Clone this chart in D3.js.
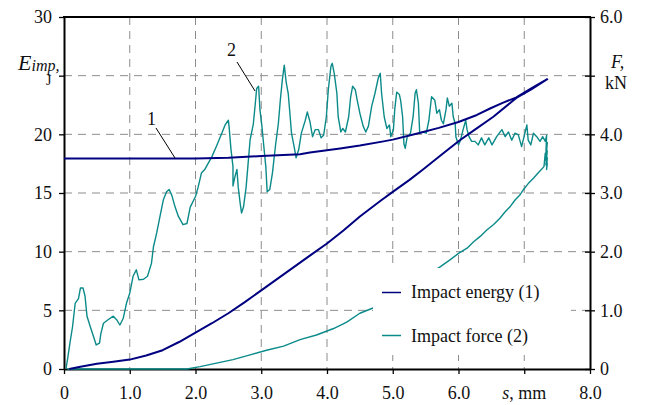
<!DOCTYPE html>
<html><head><meta charset="utf-8">
<script src="https://cdn.jsdelivr.net/npm/d3@7"></script>
<style>
html,body{margin:0;padding:0;background:#fff;}
svg text{font-family:"Liberation Serif","Times New Roman",Times,serif !important;fill:#111;}
</style></head>
<body><svg id="c" width="645" height="405"></svg>
<script>
// ---------- data ----------
const xTicks = [0,1,2,3,4,5,6,7,8];
const xTickLabels = ["0","1.0","2.0","3.0","4.0","5.0","6.0","","8.0"];
const eTicks = [0,5,10,15,20,25,30];
const eTickLabels = ["0","5","10","15","20","","30"];
const fTicks = [0,1,2,3,4,5,6];
const fTickLabels = ["0","1.0","2.0","3.0","4.0","","6.0"];

// Impact energy (1), J — loading branch
const energyLoadS = [0.08,0.25,0.5,0.75,1.0,1.25,1.5,1.75,2.0,2.25,2.5,2.75,3.0,3.25,3.5,3.75,4.0,4.25,4.5,4.83,5.0,5.25,5.46,5.75,6.02,6.25,6.53,6.88,7.1,7.35];
const energyLoadJ = [0,0.2,0.45,0.62,0.8,1.15,1.6,2.3,3.1,3.9,4.75,5.7,6.7,7.7,8.7,9.7,10.7,11.8,13.0,14.4,15.1,16.1,17.0,18.3,19.5,20.4,21.5,23.1,23.8,24.7];
// Impact energy (1), J — return branch
const energyBackS = [7.35,7.1,6.88,6.68,6.48,6.28,6.0,5.7,5.39,5.0,4.86,4.5,4.2,3.74,3.59,3.0,2.5,2.0,1.0,0.0];
const energyBackJ = [24.7,23.9,23.15,22.7,22.2,21.65,21.05,20.55,20.1,19.55,19.4,19.05,18.8,18.45,18.3,18.15,18.0,17.95,17.95,17.95];

// Impact force (2), kN — loading branch
const forceLoadS = [0.03,0.06,0.09,0.13,0.17,0.22,0.25,0.29,0.32,0.35,0.40,0.45,0.49,0.54,0.56,0.60,0.67,0.75,0.80,0.85,0.90,0.95,1.00,1.05,1.10,1.14,1.21,1.27,1.33,1.36,1.41,1.46,1.51,1.56,1.60,1.64,1.69,1.74,1.81,1.87,1.92,2.00,2.04,2.09,2.14,2.19,2.25,2.32,2.40,2.45,2.50,2.51,2.54,2.57,2.57,2.60,2.63,2.65,2.68,2.70,2.73,2.77,2.80,2.83,2.88,2.91,2.93,2.96,2.98,3.01,3.03,3.07,3.09,3.13,3.17,3.22,3.26,3.29,3.32,3.35,3.38,3.41,3.44,3.46,3.50,3.53,3.57,3.61,3.67,3.70,3.74,3.78,3.82,3.87,3.91,3.95,3.99,4.02,4.06,4.08,4.11,4.15,4.17,4.21,4.24,4.28,4.33,4.36,4.39,4.43,4.46,4.50,4.55,4.59,4.63,4.68,4.73,4.78,4.81,4.83,4.87,4.91,4.95,4.97,5.01,5.03,5.06,5.10,5.12,5.15,5.17,5.19,5.22,5.27,5.31,5.34,5.36,5.39,5.41,5.46,5.51,5.55,5.59,5.64,5.67,5.71,5.74,5.77,5.81,5.83,5.86,5.90,5.92,5.95,5.96,6.00,6.03,6.07,6.11,6.13,6.16,6.20,6.25,6.30,6.35,6.40,6.46,6.51,6.58,6.66,6.71,6.76,6.81,6.86,6.91,6.96,7.01,7.04,7.06,7.10,7.14,7.19,7.24,7.28,7.32,7.34,7.33,7.35,7.33,7.35,7.33,7.35,7.34,7.35];
const forceLoadKN = [0,0.21,0.44,0.72,1.12,1.20,1.38,1.38,1.24,0.90,0.72,0.55,0.41,0.44,0.60,0.78,0.84,0.90,0.84,0.75,0.86,1.12,1.29,1.58,1.69,1.52,1.53,1.58,1.80,2.08,2.32,2.60,2.88,3.02,3.06,2.96,2.76,2.60,2.46,2.48,2.76,2.94,3.10,3.34,3.40,3.50,3.62,3.80,4.02,4.16,4.24,4.14,3.74,3.45,3.12,3.28,3.40,3.10,2.82,2.66,2.76,3.10,3.50,3.90,4.18,4.53,4.78,4.82,4.42,4.14,3.90,3.44,3.02,3.06,3.34,3.84,4.18,4.58,4.92,5.18,4.88,4.70,4.30,4.02,3.79,3.60,3.74,4.02,4.24,4.38,4.22,3.96,4.08,4.08,3.94,3.99,4.30,4.76,5.16,5.21,5.04,4.70,4.30,4.04,4.10,4.04,4.30,4.64,4.82,4.76,4.58,4.36,4.14,4.04,4.14,4.48,4.70,4.96,5.04,4.70,4.30,4.10,4.16,3.96,4.08,4.42,4.72,4.68,4.58,4.30,3.84,3.76,3.96,4.02,4.30,4.70,4.76,4.53,4.02,4.04,4.02,4.24,4.64,4.58,4.36,4.42,4.24,4.18,4.42,4.62,4.48,4.53,4.30,4.18,3.96,3.82,3.90,4.08,4.24,4.08,3.96,3.88,3.88,3.82,3.94,3.82,3.94,3.82,3.96,4.08,3.96,4.04,3.90,4.02,3.99,3.79,4.02,4.16,3.90,3.82,4.02,3.96,3.88,3.96,3.88,3.98,3.70,3.86,3.56,3.72,3.48,3.60,3.40,3.50];
// Impact force (2), kN — unloading branch
const forceUnloadS = [7.35,7.32,7.30,7.21,7.14,7.06,6.99,6.93,6.86,6.78,6.71,6.63,6.53,6.43,6.33,6.23,6.13,6.00,5.87,5.72,4.70,4.50,4.30,4.10,3.84,3.59,3.34,3.08,2.83,2.57,2.32,2.07,1.87,0.05];
const forceUnloadKN = [3.50,3.68,3.45,3.34,3.25,3.16,3.06,2.96,2.88,2.76,2.68,2.57,2.46,2.37,2.26,2.17,2.06,1.97,1.86,1.74,1.04,0.95,0.80,0.69,0.58,0.50,0.39,0.32,0.24,0.16,0.10,0.04,0,0];

const seriesNames = ["Impact energy (1)","Impact force (2)"];
const seriesColors = ["#000080","#0b8a8a"];

// ---------- chart ----------
const svg = d3.select("#c");
const L=64, R=590, T=17, B=369;
const x = d3.scaleLinear().domain([0,8]).range([L,R]);
const yE = d3.scaleLinear().domain([0,30]).range([B,T]);
const yF = d3.scaleLinear().domain([0,6]).range([B,T]);

// grid
const grid = svg.append("g").attr("stroke","#8c8c8c").attr("stroke-width",1).attr("stroke-dasharray","8,6");
xTicks.filter(d=>d>0&&d<8).forEach(d=>grid.append("line").attr("x1",x(d)).attr("x2",x(d)).attr("y1",T).attr("y2",B));
eTicks.filter(d=>d>0&&d<30).forEach(d=>grid.append("line").attr("x1",L).attr("x2",R).attr("y1",yE(d)).attr("y2",yE(d)));

// axes
const fs = "18px";
const ax = svg.append("g").attr("transform",`translate(0,${B})`)
  .call(d3.axisBottom(x).tickValues(xTicks).tickSize(5).tickPadding(12).tickSizeOuter(0).tickFormat((d,i)=>xTickLabels[i]));
const ay = svg.append("g").attr("transform",`translate(${L},0)`)
  .call(d3.axisLeft(yE).tickValues(eTicks).tickSize(5).tickPadding(7).tickSizeOuter(0).tickFormat((d,i)=>eTickLabels[i]));
const ar = svg.append("g").attr("transform",`translate(${R},0)`)
  .call(d3.axisRight(yF).tickValues(fTicks).tickSize(5).tickPadding(5).tickSizeOuter(0).tickFormat((d,i)=>fTickLabels[i]));
ar.selectAll(".tick line").attr("x1",-5);
[ax,ay,ar].forEach(g=>{
  g.attr("font-family",null);
  g.selectAll("text").attr("font-size",fs).attr("fill","#111");
  g.selectAll(".tick line").attr("stroke","#000").attr("stroke-width",1.3);
  g.select(".domain").attr("stroke","#000").attr("stroke-width",2);
});
svg.append("line").attr("x1",L-1).attr("x2",R+1).attr("y1",T).attr("y2",T).attr("stroke","#000").attr("stroke-width",2);

// series
const lineF = d3.line().x(d=>x(d[0])).y(d=>yF(d[1]));
const lineE = d3.line().x(d=>x(d[0])).y(d=>yE(d[1]));
const forcePts = forceLoadS.map((s,i)=>[s,forceLoadKN[i]]).concat(forceUnloadS.map((s,i)=>[s,forceUnloadKN[i]]));
const energyPts = energyLoadS.map((s,i)=>[s,energyLoadJ[i]]).concat(energyBackS.map((s,i)=>[s,energyBackJ[i]]));
svg.append("path").datum(forcePts).attr("d",lineF).attr("fill","none").attr("stroke",seriesColors[1]).attr("stroke-width",1.4).attr("stroke-linejoin","round");
svg.append("path").datum(energyPts).attr("d",lineE).attr("fill","none").attr("stroke",seriesColors[0]).attr("stroke-width",2).attr("stroke-linejoin","round");

// legend
svg.append("rect").attr("x",373).attr("y",268).attr("width",198).attr("height",87).attr("fill","#fff");
const legY=[292.5,335.5], legBase=[298,341.5];
seriesNames.forEach((n,i)=>{
  svg.append("line").attr("x1",382).attr("x2",401).attr("y1",legY[i]).attr("y2",legY[i]).attr("stroke",seriesColors[i]).attr("stroke-width",1.5);
  svg.append("text").attr("x",411).attr("y",legBase[i]).attr("font-size",fs).text(n);
});

// axis titles
const t1 = svg.append("text").attr("x",18).attr("y",70).attr("font-style","italic");
t1.append("tspan").attr("font-size","22px").text("E");
t1.append("tspan").attr("font-size","16px").attr("dy",1).text("imp,");
svg.append("text").attr("x",46).attr("y",85).attr("font-size","14px").text("J");
svg.append("text").attr("x",611).attr("y",68).attr("font-size",fs).attr("font-style","italic").text("F,");
svg.append("text").attr("x",605).attr("y",89).attr("font-size",fs).text("kN");
const t3 = svg.append("text").attr("x",x(7)).attr("y",399).attr("font-size",fs).attr("text-anchor","middle");
t3.append("tspan").attr("font-style","italic").text("s");
t3.append("tspan").text(", mm");

// annotations
svg.append("text").attr("x",147).attr("y",125).attr("font-size",fs).text("1");
svg.append("line").attr("x1",156).attr("y1",128).attr("x2",175).attr("y2",158).attr("stroke","#000").attr("stroke-width",1);
svg.append("text").attr("x",227).attr("y",56).attr("font-size",fs).text("2");
svg.append("line").attr("x1",237).attr("y1",62).attr("x2",255).attr("y2",91).attr("stroke","#000").attr("stroke-width",1);
</script></body></html>
